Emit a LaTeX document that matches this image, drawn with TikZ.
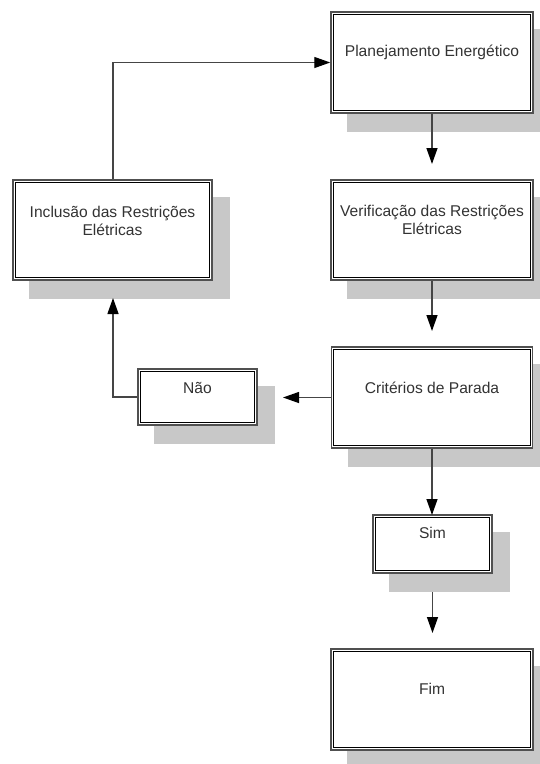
\documentclass[tikz,border=0pt]{standalone}
\usepackage{fontspec}
\setmainfont{Liberation Sans}
\usetikzlibrary{arrows.meta,backgrounds}
\definecolor{shadowc}{HTML}{C8C8C8}
\definecolor{framec}{HTML}{505050}
\definecolor{linec}{HTML}{454545}
\definecolor{textc}{HTML}{333333}
\tikzset{
  box/.style={draw=framec, line width=1.5pt, fill=white, inner sep=0pt},
  lbl/.style={text=textc, font=\fontsize{15.6}{18}\selectfont, align=center, inner sep=0pt},
  conn/.style={draw=linec, line width=1.3pt, -{Triangle[width=11pt,length=16pt,fill=black,color=black]}},
}
\newcommand{\boxdeco}[1]{%
  \begin{pgfonlayer}{background}
    \fill[shadowc] ([shift={(17,18)}]#1.north west) rectangle ([shift={(17,18)}]#1.south east);
  \end{pgfonlayer}
  \draw[black, line width=1pt] ([shift={(3.2,3.2)}]#1.north west) rectangle ([shift={(-3.2,-3.2)}]#1.south east);
}
\begin{document}
\begin{tikzpicture}[x=1pt,y=-1pt]
\clip (0,0) rectangle (539,764);
% boxes
\node[box, minimum width=202pt, minimum height=101pt] (plan) at (432,62.5) {};
\node[box, minimum width=202pt, minimum height=100pt] (verif) at (432,230) {};
\node[box, minimum width=201pt, minimum height=101pt] (crit) at (432,397.5) {};
\node[box, minimum width=119pt, minimum height=58pt] (sim) at (432.5,544) {};
\node[box, minimum width=202pt, minimum height=101pt] (fim) at (432,699.5) {};
\node[box, minimum width=199pt, minimum height=100pt] (incl) at (112.5,230) {};
\node[box, minimum width=119pt, minimum height=56pt] (nao) at (197.5,397) {};
\foreach \n in {plan,verif,crit,sim,fim,incl,nao}{\boxdeco{\n}}
% labels
\node[lbl] (plant) at ([yshift=10pt]plan.center) {Planejamento Energético};
\node[lbl] (verift) at ([yshift=10pt]verif.center) {Verificação das Restrições\\Elétricas};
\node[lbl] (critt) at ([yshift=10pt]crit.center) {Critérios de Parada};
\node[lbl] (simt) at ([yshift=11pt]sim.center) {Sim};
\node[lbl] (fimt) at ([yshift=11pt]fim.center) {Fim};
\node[lbl] (inclt) at ([yshift=9pt]incl.center) {Inclusão das Restrições\\Elétricas};
\node[lbl] (naot) at ([yshift=9pt]nao.center) {Não};
% connector end points
\coordinate (c1) at (432,164);
\coordinate (c2) at (432,331);
\coordinate (c3) at (432,515);
\coordinate (s0) at (432.5,592);
\coordinate (c4) at (432.5,633);
\coordinate (c5) at (283,397.5);
\coordinate (c6) at (113,298);
\coordinate (k1) at (113,62.5);
\coordinate (k2) at (113,397);
% connectors
\draw[conn] (plan.south) -- (c1);
\draw[conn] (verif.south) -- (c2);
\draw[conn] (crit.south) -- (c3);
\draw[conn] (s0) -- (c4);
\draw[conn] (crit.west) -- (c5);
\draw[conn] (nao.west) -- (k2) -- (c6);
\draw[conn] (incl.north -| k1) -- (k1) -- (plan.west);
\end{tikzpicture}
\end{document}
